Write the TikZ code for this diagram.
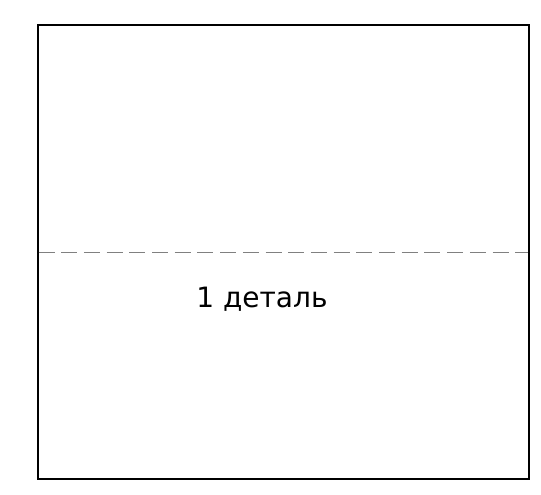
\documentclass[tikz,border=0pt]{standalone}
\usepackage{fontspec}
\setmainfont{DejaVu Sans}
\usetikzlibrary{positioning}

\begin{document}
\begin{tikzpicture}[x=1pt, y=1pt,
      outline/.style = {draw, line width=2pt},
      cutline/.style = {draw=gray, line width=1.5pt, dash pattern=on 16pt off 6.7pt},
      parttext/.style = {font=\fontsize{28}{30}\selectfont, inner sep=0}
      ]
    \useasboundingbox (0,0) rectangle (541,495);
    \draw[outline] (37.5,16) rectangle (529,470);
    \draw[cutline] (38.5,242.5) -- (528,242.5);
    \node[parttext] (part) at (262,196) {1 деталь};
\end{tikzpicture}
\end{document}
